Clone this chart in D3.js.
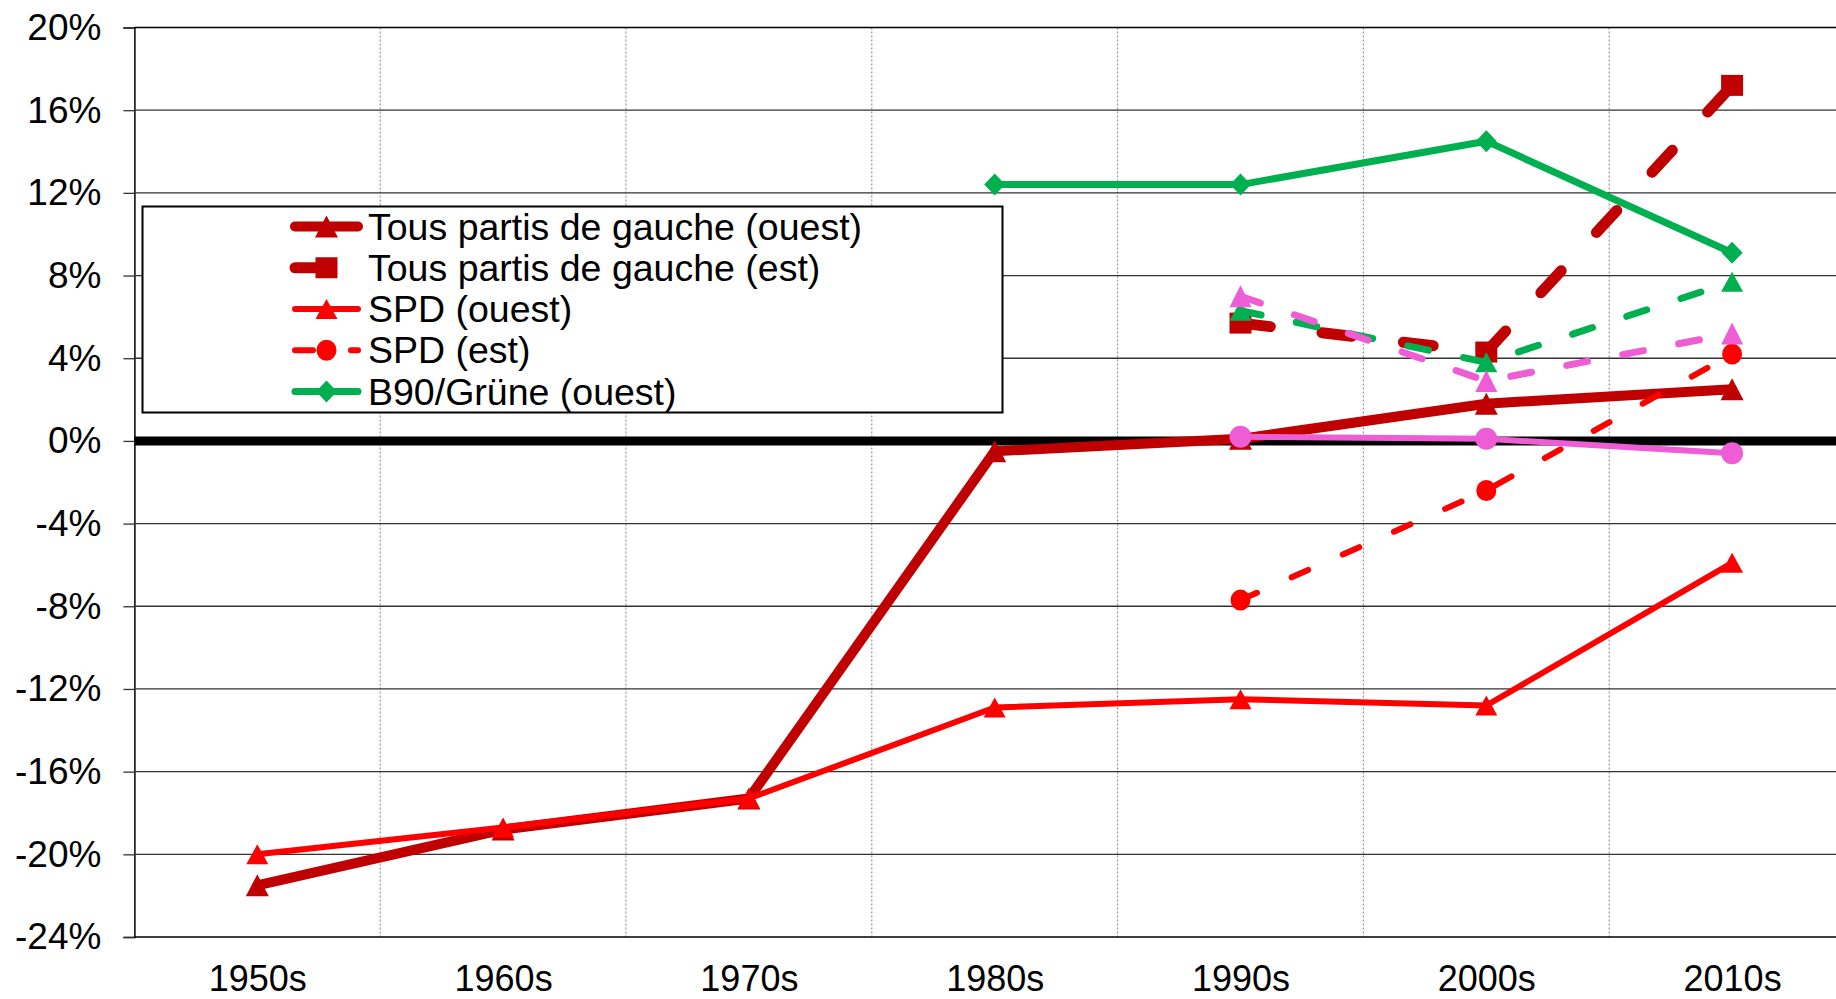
<!DOCTYPE html>
<html><head><meta charset="utf-8">
<script src="https://cdn.jsdelivr.net/npm/d3@7"></script>
<style>html,body{margin:0;padding:0;background:#fff;overflow:hidden}
text{font-family:"Liberation Sans",Arial,Helvetica,sans-serif;fill:#000}</style>
</head><body>
<svg id="chart" width="1836" height="999"></svg>
<script>
// ---- data ----
const categories = ["1950s","1960s","1970s","1980s","1990s","2000s","2010s"];
const yTickValues = [-24,-20,-16,-12,-8,-4,0,4,8,12,16,20];
const gaucheOuest = [-21.5,-18.8,-17.3,-0.5,0.1,1.8,2.5];
const gaucheEst   = [null,null,null,null,5.7,4.3,17.2];
const spdOuest    = [-20.0,-18.7,-17.3,-12.9,-12.5,-12.8,-5.9];
const spdEst      = [null,null,null,null,-7.7,-2.4,4.2];
const grunOuest   = [null,null,null,12.4,12.4,14.5,9.1];
const grunEst     = [null,null,null,null,6.3,3.8,7.7];
const pinkDashed  = [null,null,null,null,7.0,2.9,5.2];
const pinkSolid   = [null,null,null,null,0.2,0.1,-0.6];
const legendNames = ["Tous partis de gauche (ouest)","Tous partis de gauche (est)","SPD (ouest)","SPD (est)","B90/Grüne (ouest)"];

// ---- styles ----
const DARK="#C00000", RED="#FF0000", GREEN="#00B050", PINK="#EE5CD6";
const series = [
  {values:gaucheOuest, color:DARK,  width:10, dash:null,   marker:"tri",   mw:23, mh:22, legend:0},
  {values:gaucheEst,   color:DARK,  width:11, dash:"30,52",marker:"square",mw:22, mh:21, legend:1},
  {values:spdOuest,    color:RED,   width:6,  dash:null,   marker:"tri",   mw:22, mh:20, legend:2},
  {values:spdEst,      color:RED,   width:6,  dash:"18,38",marker:"circle",mw:20, mh:21, legend:3},
  {values:grunOuest,   color:GREEN, width:7,  dash:null,   marker:"diamond",mw:21,mh:22, legend:4},
  {values:grunEst,     color:GREEN, width:7,  dash:"21,36",marker:"tri",   mw:22, mh:20, legend:null},
  {values:pinkDashed,  color:PINK,  width:7,  dash:"21,36",marker:"tri",   mw:22, mh:22, legend:null},
  {values:pinkSolid,   color:PINK,  width:6,  dash:null,   marker:"circle",mw:22, mh:22, legend:null}
];

const svg = d3.select("#chart");
const x = d3.scalePoint().domain(categories).range([134.4, 1855]).padding(0.5);
const y = d3.scaleLinear().domain([-24,20]).range([937,27.5]);
const step = x.step();

// vertical dashed gridlines
svg.append("g").selectAll("line").data(categories.slice(0,6)).join("line")
  .attr("x1", d=>x(d)+step/2).attr("x2", d=>x(d)+step/2)
  .attr("y1", y(20)).attr("y2", y(-24))
  .attr("stroke","#808080").attr("stroke-width",1).attr("stroke-dasharray","2,2");

// horizontal gridlines + y axis
const yAxis = d3.axisLeft(y).tickValues(yTickValues).tickSize(11).tickPadding(22)
  .tickFormat(d=>d+"%");
const gy = svg.append("g").attr("transform","translate(134.4,0)").call(yAxis);
gy.select(".domain").attr("stroke","#000").attr("stroke-width",1.5);
gy.selectAll(".tick line").attr("stroke","#333").attr("stroke-width",1.3);
gy.selectAll(".tick text").style("font-size","37px").attr("fill","#000");
svg.append("g").selectAll("line").data(yTickValues.filter(v=>v!==0)).join("line")
  .attr("x1",134.4).attr("x2",1836).attr("y1",d=>y(d)).attr("y2",d=>y(d))
  .attr("stroke",d=>(d===20||d===-24)?"#000":"#333").attr("stroke-width",1.3);

// x axis labels
const xAxis = d3.axisBottom(x).tickSize(0).tickPadding(0);
const gx = svg.append("g").attr("transform",`translate(0,${y(-24)})`).call(xAxis);
gx.select(".domain").remove();
gx.selectAll(".tick text").style("font-size","36px").attr("dy",null).attr("y",54).attr("fill","#000");

// zero line
svg.append("line").attr("x1",134.4).attr("x2",1836).attr("y1",y(0)).attr("y2",y(0))
  .attr("stroke","#000").attr("stroke-width",9);

function markerPath(type,w,h){
  if(type==="tri") return `M0,${-h/2}L${w/2},${h/2}L${-w/2},${h/2}Z`;
  if(type==="square") return `M${-w/2},${-h/2}H${w/2}V${h/2}H${-w/2}Z`;
  if(type==="diamond") return `M0,${-h/2}L${w/2},0L0,${h/2}L${-w/2},0Z`;
  const rx=w/2, ry=h/2;
  return `M${-rx},0A${rx},${ry} 0 1,0 ${rx},0A${rx},${ry} 0 1,0 ${-rx},0Z`;
}

const line = d3.line().defined(d=>d.v!=null).x(d=>x(d.c)).y(d=>y(d.v));
series.forEach(s=>{
  const pts = categories.map((c,i)=>({c, v:s.values[i]}));
  const g = svg.append("g");
  g.append("path").datum(pts).attr("d",line).attr("fill","none")
    .attr("stroke",s.color).attr("stroke-width",s.width)
    .attr("stroke-linecap","round").attr("stroke-linejoin","round")
    .attr("stroke-dasharray",s.dash);
  g.selectAll("path.m").data(pts.filter(d=>d.v!=null)).join("path").attr("class","m")
    .attr("transform",d=>`translate(${x(d.c)},${y(d.v)})`)
    .attr("d",markerPath(s.marker,s.mw,s.mh)).attr("fill",s.color);
});

// legend
const lg = svg.append("g");
lg.append("rect").attr("x",142.5).attr("y",206.5).attr("width",860).attr("height",206)
  .attr("fill","#fff").attr("stroke","#000").attr("stroke-width",2);
const legendRows = series.filter(s=>s.legend!=null);
const rowY = d3.scaleLinear().domain([0,4]).range([226.5,391.5]);
legendRows.forEach(s=>{
  const cy = rowY(s.legend);
  lg.append("line").attr("x1",295).attr("x2",358).attr("y1",cy).attr("y2",cy)
    .attr("stroke",s.color).attr("stroke-width",s.width)
    .attr("stroke-linecap","round").attr("stroke-dasharray",s.dash);
  lg.append("path").attr("transform",`translate(326.5,${cy})`)
    .attr("d",markerPath(s.marker,s.mw,s.mh)).attr("fill",s.color);
  lg.append("text").attr("x",368).attr("y",cy+13).style("font-size","37.5px")
    .text(legendNames[s.legend]);
});
</script>
</body></html>
